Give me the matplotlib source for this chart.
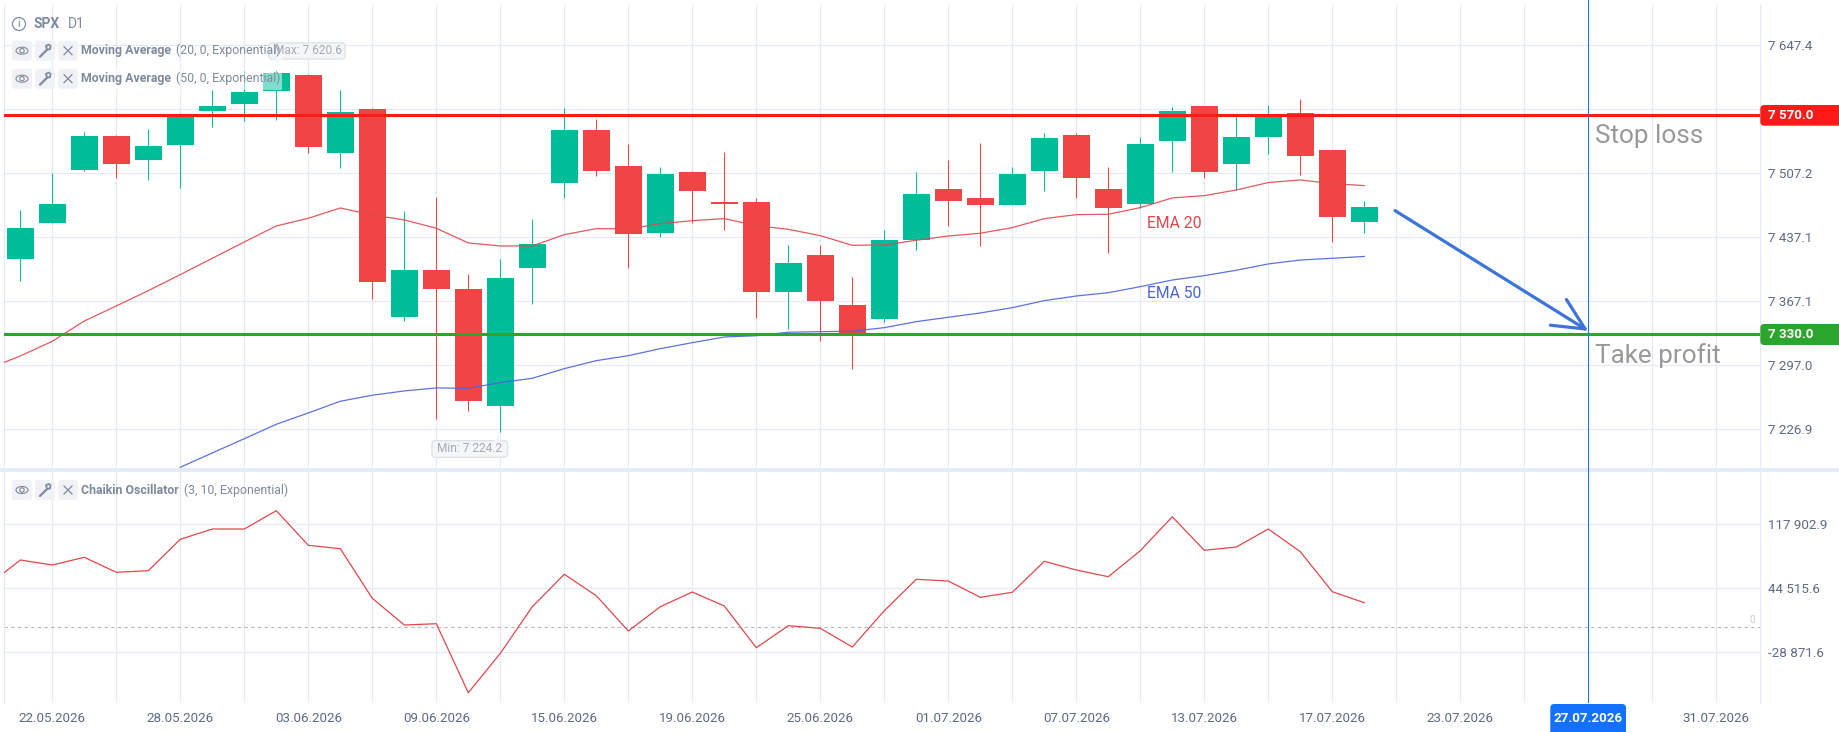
import matplotlib
matplotlib.use('Agg')
import matplotlib.pyplot as plt
from matplotlib.patches import FancyBboxPatch, Ellipse, Circle, Polygon, Rectangle

plt.rcParams['font.family'] = ['Roboto', 'DejaVu Sans']

W, H = 1840, 732

# candles, one per session, starting at index 0
opens = [7413.3, 7452.8, 7510.8, 7548.1, 7521.8, 7538.2, 7575.4, 7583.1, 7597.3, 7614.9, 7529.4,
         7577.6, 7349.8, 7401.3, 7380.5, 7252.4, 7403.5, 7496.6, 7554.6, 7515.2, 7441.8, 7508.6,
         7475.8, 7475.8, 7377.2, 7417.7, 7363.0, 7347.6, 7434.2, 7490.0, 7480.2, 7472.5, 7509.7,
         7549.2, 7490.0, 7473.6, 7542.6, 7580.9, 7517.4, 7547.0, 7573.3, 7532.7, 7453.9]
highs = [7467.0, 7507.2, 7552.4, 7549.1, 7555.7, 7572.9, 7598.4, 7620.3, 7620.6, 7616.0, 7598.4,
         7578.7, 7465.9, 7481.2, 7396.9, 7413.4, 7457.2, 7578.7, 7566.7, 7539.3, 7514.1, 7509.7,
         7530.5, 7480.2, 7428.7, 7428.7, 7393.6, 7445.1, 7508.6, 7521.8, 7540.4, 7514.1, 7551.3,
         7551.3, 7514.1, 7547.0, 7579.8, 7580.9, 7569.2, 7582.0, 7588.6, 7532.7, 7476.9]
lows = [7389.2, 7452.8, 7509.7, 7502.1, 7499.9, 7491.1, 7557.9, 7564.8, 7565.6, 7529.4, 7513.0,
        7369.5, 7345.4, 7238.1, 7247.2, 7224.2, 7364.1, 7480.2, 7504.3, 7403.5, 7437.4, 7452.8,
        7445.1, 7348.7, 7336.7, 7323.5, 7292.9, 7344.4, 7423.2, 7449.5, 7427.6, 7472.5, 7487.8,
        7480.2, 7419.9, 7469.2, 7508.6, 7502.1, 7488.9, 7528.3, 7505.4, 7432.0, 7441.8]
closes = [7447.3, 7473.6, 7548.1, 7517.4, 7537.1, 7571.0, 7580.9, 7596.2, 7617.0, 7536.0, 7574.3,
          7388.2, 7401.3, 7380.5, 7257.8, 7392.5, 7429.8, 7554.6, 7509.7, 7440.7, 7506.4, 7487.8,
          7473.6, 7377.2, 7409.0, 7367.4, 7331.2, 7434.2, 7484.5, 7476.9, 7472.5, 7506.4, 7545.9,
          7502.1, 7469.2, 7539.3, 7575.4, 7508.6, 7547.0, 7569.2, 7526.2, 7459.4, 7470.3]

# first ema20 and chaikin value sit one session left of the first candle
ema20 = [7293.2, 7307.1, 7323.2, 7345.4, 7361.9, 7378.7, 7396.2, 7414.1, 7432.0, 7449.5, 7457.9,
         7469.2, 7461.5, 7456.1, 7447.0, 7430.9, 7427.6, 7427.6, 7440.0, 7446.6, 7446.2, 7452.0,
         7455.3, 7457.5, 7449.9, 7445.8, 7438.9, 7428.3, 7428.7, 7433.8, 7438.5, 7441.5, 7447.7,
         7457.5, 7461.9, 7462.3, 7469.6, 7480.2, 7482.7, 7488.9, 7497.0, 7499.9, 7495.9, 7493.7]
# ema50 enters the pane at session 5
ema50 = [7185.2, 7200.9, 7216.5, 7232.3, 7244.7, 7257.5, 7264.1, 7268.8, 7272.1, 7271.7, 7277.9,
         7282.7, 7293.2, 7302.0, 7307.4, 7315.1, 7321.7, 7327.9, 7329.3, 7333.1, 7333.7, 7334.2,
         7338.1, 7344.7, 7349.5, 7354.2, 7360.0, 7367.7, 7372.8, 7376.4, 7383.0, 7390.3, 7395.1,
         7401.0, 7407.9, 7412.2, 7414.1, 7416.1]
chaikin = [48298, 76966, 71232, 80062, 62862, 64697, 100703, 112514, 112514, 133498, 93823,
           89924, 33048, 2430, 3921, -75201, -30021, 23424, 60559, 36020, -4450, 23424,
           40272, 24218, -23594, 1628, -1354, -22797, 18828, 54834, 52885, 34194, 39927,
           75474, 65499, 57816, 87630, 126503, 88089, 91873, 112514, 86491, 40614, 28000]

price_ticks = [7647.4, 7577.3, 7507.2, 7437.1, 7367.1, 7297.0, 7226.9]
price_labels = ['7 647.4', '7 577.3', '7 507.2', '7 437.1', '7 367.1', '7 297.0', '7 226.9']
osc_ticks = [117902.9, 44515.6, -28871.6]
osc_labels = ['117 902.9', '44 515.6', '-28 871.6']
date_ticks = [1, 5, 9, 13, 17, 21, 25, 29, 33, 37, 41, 45, 49, 53]
date_labels = ['22.05.2026', '28.05.2026', '03.06.2026', '09.06.2026', '15.06.2026', '19.06.2026',
               '25.06.2026', '01.07.2026', '07.07.2026', '13.07.2026', '17.07.2026', '23.07.2026',
               '', '31.07.2026']

# levels, the tags say 7 570.0 and 7 330.0
stop_loss = 7570.6
take_profit = 7330.8
cursor = 48.98
arrow_from = (42.96, 7466.3)
arrow_to = (49, 7334.5)

GREEN = '#00bd9a'
RED = '#f14545'
GRID = '#e3eafa'
TICK = '#5c6b85'
LEGEND = '#7f8a9e'
CURSOR = '#1272ff'

fig = plt.figure(figsize=(W / 100, H / 100), dpi=100, facecolor='white')


def pane(left, top, right, bottom):
    return fig.add_axes([left / W, 1 - bottom / H, (right - left) / W, (bottom - top) / H], facecolor='none')


# separator goes under the panes
under = fig.add_axes([0, 0, 1, 1], facecolor='none', zorder=1)
under.set_xlim(0, W)
under.set_ylim(H, 0)
under.axis('off')
under.add_patch(Rectangle((0, 468), W, 4, color=GRID, lw=0))

ax = pane(4.3, 5, 1760.3, 468)
ax2 = pane(4.3, 472, 1760.3, 702.7)
ax.set_zorder(2)
ax2.set_zorder(2)

for a in (ax, ax2):
    a.set_xlim(-0.5, 54.375)
    a.set_xticks(range(1, 54, 2))
    a.grid(True, color=GRID, lw=0.8)
    a.set_axisbelow(True)
    a.yaxis.tick_right()
    for name in ('top', 'bottom'):
        a.spines[name].set_visible(False)
    for name in ('left', 'right'):
        a.spines[name].set_color(GRID)
        a.spines[name].set_linewidth(0.8)
    a.tick_params(axis='both', length=0, labelsize=9.6, labelcolor=TICK)
    a.tick_params(axis='y', pad=5.5)

ax.set_ylim(7184.4, 7691.5)
ax.set_yticks(price_ticks)
ax.set_yticklabels(price_labels)
ax.set_xticklabels([])

ax2.set_ylim(-86661, 177876)
ax2.set_yticks(osc_ticks)
ax2.set_yticklabels(osc_labels)

x_labels = []
for k in range(1, 54, 2):
    x_labels.append(date_labels[date_ticks.index(k)] if k in date_ticks else '')
ax2.set_xticklabels(x_labels)
ax2.tick_params(axis='x', pad=6.5)

idx = list(range(len(opens)))
colors = [GREEN if c >= o else RED for o, c in zip(opens, closes)]
ax.vlines(idx, lows, highs, colors=colors, lw=0.75, zorder=3)
ax.bar(idx, [abs(c - o) for o, c in zip(opens, closes)], bottom=[min(o, c) for o, c in zip(opens, closes)],
       width=27 / 32, color=colors, lw=0, zorder=3)

ax.plot(range(-1, 43), ema20, color='#e2474b', lw=0.9, alpha=0.9, zorder=4)
ax.plot(range(5, 43), ema50, color='#4a63e0', lw=0.9, alpha=0.9, zorder=4)
ax.axhline(stop_loss, color='#ff1a1a', lw=2.2, zorder=5)
ax.axhline(take_profit, color='#2ca52c', lw=2.2, zorder=5)

ax.axvline(cursor, ymin=-0.01, ymax=1.011, color=CURSOR, lw=0.72, clip_on=False, zorder=6, snap=True)
ax2.axvline(cursor, ymax=1.0, color=CURSOR, lw=0.72, zorder=6, snap=True)
ax.annotate('', xy=arrow_to, xytext=arrow_from, zorder=7,
            arrowprops=dict(arrowstyle='->,head_length=22.7,head_width=10.9', mutation_scale=1, color='#3d74d9',
                            lw=2.3, shrinkA=0, shrinkB=0))

ax.text(36.07, 7451.9, 'EMA 20', color='#e0474b', fontsize=11.3, va='center', ha='center', zorder=7)
ax.text(36.07, 7376.0, 'EMA 50', color='#4a63dc', fontsize=11.3, va='center', ha='center', zorder=7)
ax.text(49.2, 7548.0, 'Stop loss', color='#999999', fontsize=18.8, va='center', ha='left', zorder=7)
ax.text(49.2, 7308.0, 'Take profit', color='#999999', fontsize=18.8, va='center', ha='left', zorder=7)

ax2.axhline(0, color='#b8b8b8', lw=0.8, ls=(0, (3, 3)), zorder=2)
ax2.plot(range(-1, 43), chaikin, color='#e2474b', lw=0.9, zorder=4)
ax2.text(54.2, 3000, '0', color='#c9c9c9', fontsize=7, ha='right', va='bottom')

# legend, tags and price boxes live on a pixel overlay
top = fig.add_axes([0, 0, 1, 1], facecolor='none', zorder=3)
top.set_xlim(0, W)
top.set_ylim(H, 0)
top.axis('off')


def box(x0, y0, x1, y1, fc, ec='none', r=3, z=2, alpha=None, lw=1):
    top.add_patch(FancyBboxPatch((x0, y0), x1 - x0, y1 - y0, boxstyle='round,pad=0,rounding_size=%g' % r,
                                 fc=fc, ec=ec, lw=lw, zorder=z, alpha=alpha, mutation_aspect=1))


def buttons(cy):
    for x0 in (12, 35, 58):
        box(x0, cy - 10, x0 + 20, cy + 10, '#f0f2f6', z=3)
    # eye
    top.add_patch(Ellipse((22, cy), 12, 7, fc='none', ec=LEGEND, lw=0.8, zorder=4))
    top.add_patch(Circle((22, cy), 2.2, fc='none', ec=LEGEND, lw=0.8, zorder=4))
    # wrench
    top.plot([40, 47], [cy + 6, cy - 1], color=LEGEND, lw=1.6, zorder=4, solid_capstyle='round')
    top.plot([47, 50, 50.5], [cy - 1, cy - 1.5, cy - 5], color=LEGEND, lw=1.3, zorder=4)
    top.plot([47, 46, 49], [cy - 1, cy - 5, cy - 6], color=LEGEND, lw=1.3, zorder=4)
    # close
    top.plot([64, 72], [cy - 4, cy + 4], color=LEGEND, lw=0.9, zorder=4)
    top.plot([64, 72], [cy + 4, cy - 4], color=LEGEND, lw=0.9, zorder=4)


def legend_row(cy, name, params, params_x):
    buttons(cy)
    top.text(81, cy, name, color=LEGEND, fontsize=8.9, fontweight='bold', va='center', zorder=4)
    top.text(params_x, cy, params, color=LEGEND, fontsize=8.9, va='center', zorder=4)


top.add_patch(Circle((19, 24), 6.5, fc='white', ec=LEGEND, lw=0.9, zorder=4))
top.text(19, 24, 'i', color=LEGEND, fontsize=8, ha='center', va='center', zorder=4)
top.text(34, 24, 'SPX', color=LEGEND, fontsize=10, fontweight='bold', va='center', zorder=4)
top.text(68, 24, 'D1', color=LEGEND, fontsize=10, va='center', zorder=4)

# translucent backing of the legend rows fades the candles under them
top.add_patch(Rectangle((80, 68), 202, 22, fc='white', alpha=0.5, lw=0, zorder=1))
legend_row(50.7, 'Moving Average', '(20, 0, Exponential)', 176.5)
legend_row(78.7, 'Moving Average', '(50, 0, Exponential)', 176.5)
legend_row(490, 'Chaikin Oscillator', '(3, 10, Exponential)', 184.5)

# max / min tags
box(269, 43, 345, 59, '#f4f6f8', ec='#dfe3e8', z=2)
top.add_patch(Polygon([[276, 58], [283, 58], [276.5, 65]], fc='#f4f6f8', ec='none', zorder=2))
top.text(308, 51, 'Max: 7 620.6', color='#a4abb8', fontsize=8.6, ha='center', va='center', zorder=5)
box(432, 440.7, 507.6, 457.3, '#f4f6f8', ec='#dfe3e8', z=2)
top.add_patch(Polygon([[493, 441.5], [500.4, 434], [500.4, 441.5]], fc='#f4f6f8', ec='none', zorder=2))
top.text(469.8, 449, 'Min: 7 224.2', color='#a4abb8', fontsize=8.6, ha='center', va='center', zorder=5)

# price boxes
box(1760.3, 105, 1860, 125.7, '#ff1a1a', r=4, z=5)
top.text(1768, 115.5, '7 570.0', color='white', fontsize=9.6, fontweight='bold', va='center', zorder=6)
box(1760.3, 324, 1860, 345, '#2ca52c', r=4, z=5)
top.text(1768, 334.5, '7 330.0', color='white', fontsize=9.6, fontweight='bold', va='center', zorder=6)

# cursor date box
box(1550.3, 704, 1626, 745, CURSOR, r=4, z=5)
top.text(1588.3, 719, '27.07.2026', color='white', fontsize=9.6, fontweight='bold', ha='center', va='center', zorder=6)

fig.savefig('out.png', dpi=100)
